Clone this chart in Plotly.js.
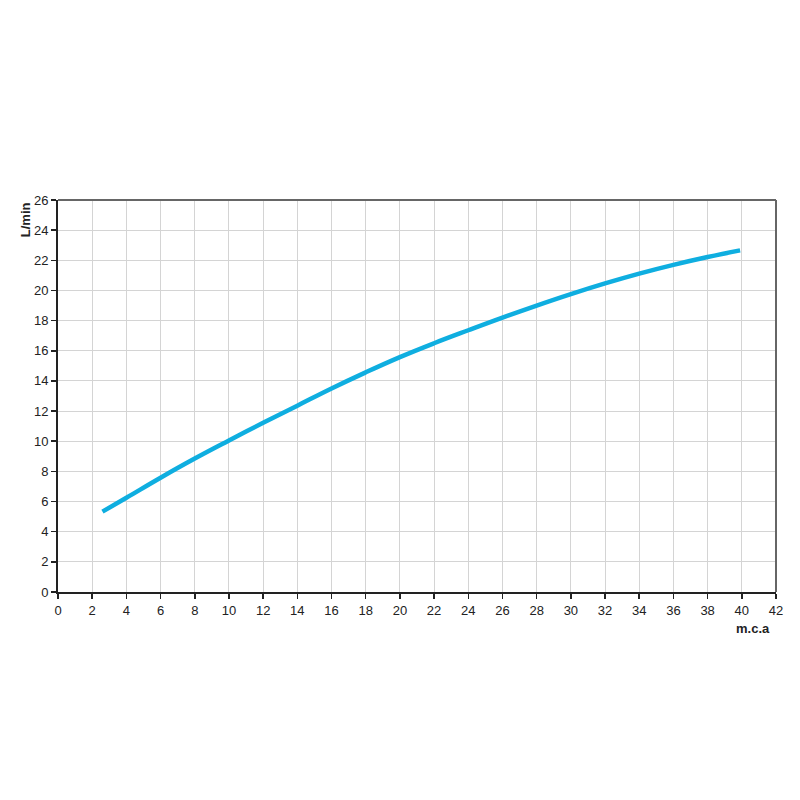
<!DOCTYPE html>
<html>
<head>
<meta charset="utf-8">
<script src="https://cdn.plot.ly/plotly-3.0.1.min.js"></script>
<style>html,body{margin:0;padding:0;background:#fff;}#chart{width:800px;height:800px;}</style>
</head>
<body>
<div id="chart"></div>
<script>
const pressure = [2.6, 4, 6, 8, 10, 12, 14, 16, 18, 20, 22, 24, 26, 28, 30, 32, 34, 36, 38, 39.9];
const flow = [5.33, 6.25, 7.58, 8.85, 10.05, 11.22, 12.36, 13.5, 14.57, 15.58, 16.5, 17.36, 18.2, 19.0, 19.76, 20.47, 21.12, 21.7, 22.22, 22.66];
const xTicks = [0,2,4,6,8,10,12,14,16,18,20,22,24,26,28,30,32,34,36,38,40,42];
const yTicks = [0,2,4,6,8,10,12,14,16,18,20,22,24,26];
const xLabel = 'm.c.a';
const yLabel = 'L/min';

const trace = {
  x: pressure, y: flow, type: 'scatter', mode: 'lines',
  line: {color: '#0FAEE0', width: 4.5, shape: 'spline', smoothing: 1.2},
  hoverinfo: 'skip', showlegend: false
};
const font = {family: '"Liberation Sans", Arial, sans-serif', size: 13, color: '#222'};
const layout = {
  width: 800, height: 800,
  margin: {l: 58, r: 24, t: 200, b: 208},
  paper_bgcolor: '#fff', plot_bgcolor: '#fff',
  font: font,
  xaxis: {
    range: [0, 42], tickvals: xTicks, ticktext: xTicks.map(String),
    showgrid: true, gridcolor: '#d4d4d4', gridwidth: 1,
    showline: true, linecolor: '#222', linewidth: 2,
    ticks: 'outside', ticklen: 5, tickwidth: 1.5, tickcolor: '#222',
    zeroline: false, fixedrange: true, tickfont: font
  },
  yaxis: {
    range: [0, 26], tickvals: yTicks, ticktext: yTicks.map(String),
    showgrid: true, gridcolor: '#d4d4d4', gridwidth: 1,
    showline: true, linecolor: '#222', linewidth: 2,
    ticks: 'outside', ticklen: 5, tickwidth: 1.5, tickcolor: '#222',
    zeroline: false, fixedrange: true, tickfont: font
  },
  shapes: [
    {type: 'line', xref: 'paper', yref: 'paper', x0: 0, x1: 1, y0: 1, y1: 1, line: {color: '#666', width: 2}},
    {type: 'line', xref: 'paper', yref: 'paper', x0: 1, x1: 1, y0: 0, y1: 1, line: {color: '#666', width: 2}}
  ],
  annotations: [
    {text: '<b>' + yLabel + '</b>', xref: 'paper', yref: 'paper', x: -0.045, y: 1.0, xanchor: 'center', yanchor: 'top',
     textangle: -90, showarrow: false, font: {family: font.family, size: 13, color: '#222'}},
    {text: '<b>' + xLabel + '</b>', xref: 'paper', yref: 'paper', x: 0.995, y: -0.07, xanchor: 'right', yanchor: 'top',
     showarrow: false, font: {family: font.family, size: 13, color: '#222'}}
  ]
};
Plotly.newPlot('chart', [trace], layout, {displayModeBar: false, staticPlot: true});
</script>
</body>
</html>
